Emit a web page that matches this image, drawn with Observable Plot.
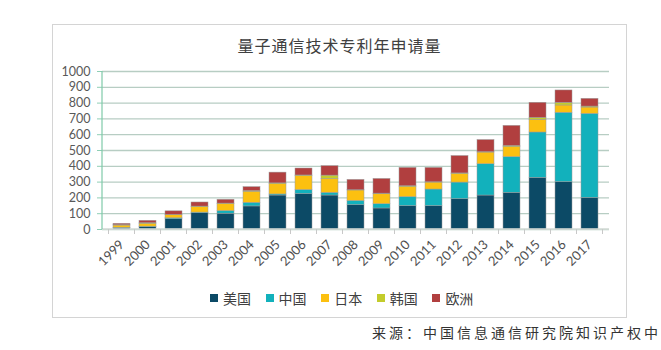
<!DOCTYPE html>
<html>
<head>
<meta charset="utf-8">
<script src="https://cdn.jsdelivr.net/npm/d3@7"></script>
<script src="https://cdn.jsdelivr.net/npm/@observablehq/plot@0.6"></script>
<style>
  html, body { margin: 0; padding: 0; background: #fff; overflow: hidden; }
  #page { position: relative; width: 661px; height: 350px; overflow: hidden; font-family: Lato, "Noto Sans CJK SC", sans-serif; }
  #box { position: absolute; left: 52px; top: 24px; width: 575px; height: 294px; border: 1.5px solid #d4d4d4; box-sizing: border-box; }
  #title { position: absolute; left: 52px; width: 575px; top: 33px; text-align: center; font-family: "Noto Sans CJK SC", sans-serif; font-size: 16px; letter-spacing: 1px; color: #404040; }
  #chart { position: absolute; left: 0; top: 0; }
  #legend { position: absolute; left: 210px; top: 288px; display: flex; font-family: "Noto Sans CJK SC", sans-serif; font-size: 14px; color: #404040; }
  #legend .item { display: flex; align-items: center; width: 55.6px; }
  #legend .sw { width: 8px; height: 8px; margin-right: 5px; }
  #caption { position: absolute; left: 372px; top: 322px; white-space: nowrap; font-family: "Noto Sans CJK SC", sans-serif; font-size: 14px; letter-spacing: 3px; color: #333; }
</style>
</head>
<body>
<div id="page">
  <div id="box"></div>
  <div id="chart"></div>
  <div id="title"></div>
  <div id="legend"></div>
  <div id="caption"></div>
</div>
<script>
const titleText = "量子通信技术专利年申请量";
const captionText = "来源：中国信息通信研究院知识产权中心";
const years = ["1999","2000","2001","2002","2003","2004","2005","2006","2007","2008","2009","2010","2011","2012","2013","2014","2015","2016","2017"];
const seriesNames = ["美国","中国","日本","韩国","欧洲"];
const seriesColors = ["#0c4a66","#12b1bc","#fcc010","#c3cc2c","#b13f3f"];
const us = [8,15,65,103,100,146,215,225,215,154,133,148,148,192,215,232,327,300,200];
const cn = [3,3,6,4,17,23,7,25,17,27,27,57,105,105,198,226,287,439,532];
const jp = [14,17,20,34,44,70,65,88,88,66,63,63,44,55,74,63,80,46,40];
const kr = [3,5,2,4,3,5,5,4,21,2,4,6,2,3,3,8,13,17,6];
const eu = [8,15,22,26,24,24,68,44,60,65,93,116,91,110,76,127,95,78,49];
const yTicks = [0,100,200,300,400,500,600,700,800,900,1000];

const seriesValues = [us, cn, jp, kr, eu];
const data = [];
seriesNames.forEach((s, si) => {
  years.forEach((y, i) => data.push({year: y, series: s, value: seriesValues[si][i]}));
});

const plot = Plot.plot({
  width: 661,
  height: 290,
  marginTop: 71,
  marginBottom: 61,
  marginLeft: 102,
  marginRight: 52,
  style: {background: "transparent", fontFamily: "Lato, 'Noto Sans CJK SC', sans-serif"},
  x: {domain: years, paddingInner: 0.335, paddingOuter: 0.1675, label: null},
  y: {domain: [0, 1000], label: null},
  color: {domain: seriesNames, range: seriesColors},
  marks: [
    Plot.gridY(yTicks, {stroke: "#b7cdc3", strokeOpacity: 1, strokeWidth: 1.3}),
    Plot.axisY(yTicks, {tickSize: 5, tickPadding: 7, fontSize: 12.5, color: "#595959", stroke: "#8fcfb5", tickFormat: d => String(d), label: null}),
    Plot.barY(data, Plot.stackY({x: "year", y: "value", fill: "series", order: seriesNames, stroke: "#9a9a9a", strokeWidth: 0.5})),
    Plot.axisX({tickSize: 0, tickPadding: 13, tickRotate: -45, fontSize: 13, color: "#505050", label: null})
  ]
});
document.getElementById("chart").appendChild(plot);

// axis lines and category boundary ticks, from the plot's own scales
const sx = plot.scale("x"), sy = plot.scale("y");
const svg = d3.select(plot);
const y0 = sy.apply(0), y1 = sy.apply(1000);
const left = sx.range[0], right = sx.range[1];
svg.append("line").attr("x1", left).attr("x2", right).attr("y1", y0).attr("y2", y0)
  .attr("stroke", "#d6dcd9").attr("stroke-width", 1.6);
const bounds = years.map(y => sx.apply(y) + sx.bandwidth / 2 - sx.step / 2);
bounds.push(sx.apply(years[years.length - 1]) + sx.bandwidth / 2 + sx.step / 2);
bounds.forEach(b => svg.append("line").attr("x1", b).attr("x2", b).attr("y1", y0).attr("y2", y0 + 5)
  .attr("stroke", "#c8c8c8").attr("stroke-width", 1));
svg.append("line").attr("x1", left).attr("x2", left).attr("y1", y1).attr("y2", y0)
  .attr("stroke", "#7fcaa8").attr("stroke-width", 1.2);

document.getElementById("title").textContent = titleText;
document.getElementById("caption").textContent = captionText;
const legend = document.getElementById("legend");
seriesNames.forEach((s, i) => {
  const it = document.createElement("div");
  it.className = "item";
  const sw = document.createElement("span");
  sw.className = "sw";
  sw.style.background = seriesColors[i];
  const t = document.createElement("span");
  t.textContent = s;
  it.appendChild(sw); it.appendChild(t);
  legend.appendChild(it);
});
</script>
</body>
</html>
